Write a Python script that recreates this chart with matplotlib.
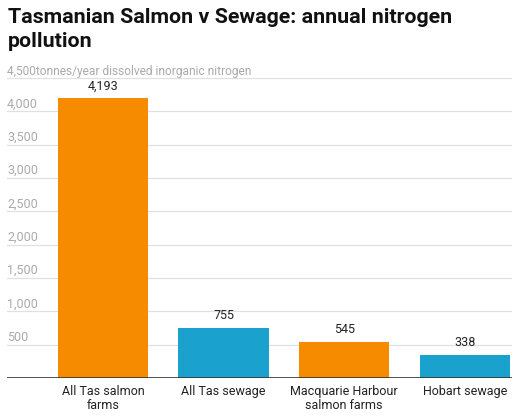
import matplotlib.pyplot as plt

plt.rcParams['font.family'] = ['Roboto', 'DejaVu Sans']

categories = ['All Tas salmon\nfarms', 'All Tas sewage', 'Macquarie Harbour\nsalmon farms', 'Hobart sewage']
values = [4193, 755, 545, 338]
colors = ['#f68b00', '#1ba1cd', '#f68b00', '#1ba1cd']
yticks = [500, 1000, 1500, 2000, 2500, 3000, 3500, 4000]
title_lines = ['Tasmanian Salmon v Sewage: annual nitrogen', 'pollution']

fig = plt.figure(figsize=(5.17, 4.17), dpi=100)
ax = fig.add_axes([0.0135, 0.0935, 0.9765, 0.7195])

x = list(range(len(values)))
ax.bar(x, values, width=0.75, color=colors, zorder=2)
for xi, v in zip(x, values):
    ax.text(xi, v + 90, f'{v:,}', ha='center', va='bottom', fontsize=9, color='#222222')

ax.set_xlim(-0.796, 3.39)
ax.set_ylim(0, 4500)

# gridlines, with labels sitting just above them
for t in yticks + [4500]:
    ax.axhline(t, color='#e0e0e0', lw=0.9, zorder=1)
for t in yticks:
    ax.text(0.0, t + 60, f'{t:,}', transform=ax.get_yaxis_transform(),
            ha='left', va='baseline', fontsize=9, color='#aaaaaa')
ax.text(0.0, 4500 + 45, '4,500tonnes/year dissolved inorganic nitrogen',
        transform=ax.get_yaxis_transform(), ha='left', va='baseline', fontsize=8.6, color='#aaaaaa')

ax.axhline(0, color='#333333', lw=1.2, zorder=3)
ax.set_yticks([])
ax.set_xticks(x)
ax.set_xticklabels(categories, fontsize=9, color='#222222', linespacing=1.1)
ax.tick_params(axis='x', length=0, pad=5)
for s in ax.spines.values():
    s.set_visible(False)

# title, one text per line so the baselines sit where they should
for line, base_px in zip(title_lines, [23, 47]):
    fig.text(0.0155, 1 - base_px / 417, line, ha='left', va='baseline',
             fontsize=15.4, fontweight='bold', color='#111111')

fig.savefig('out.png', dpi=100)
